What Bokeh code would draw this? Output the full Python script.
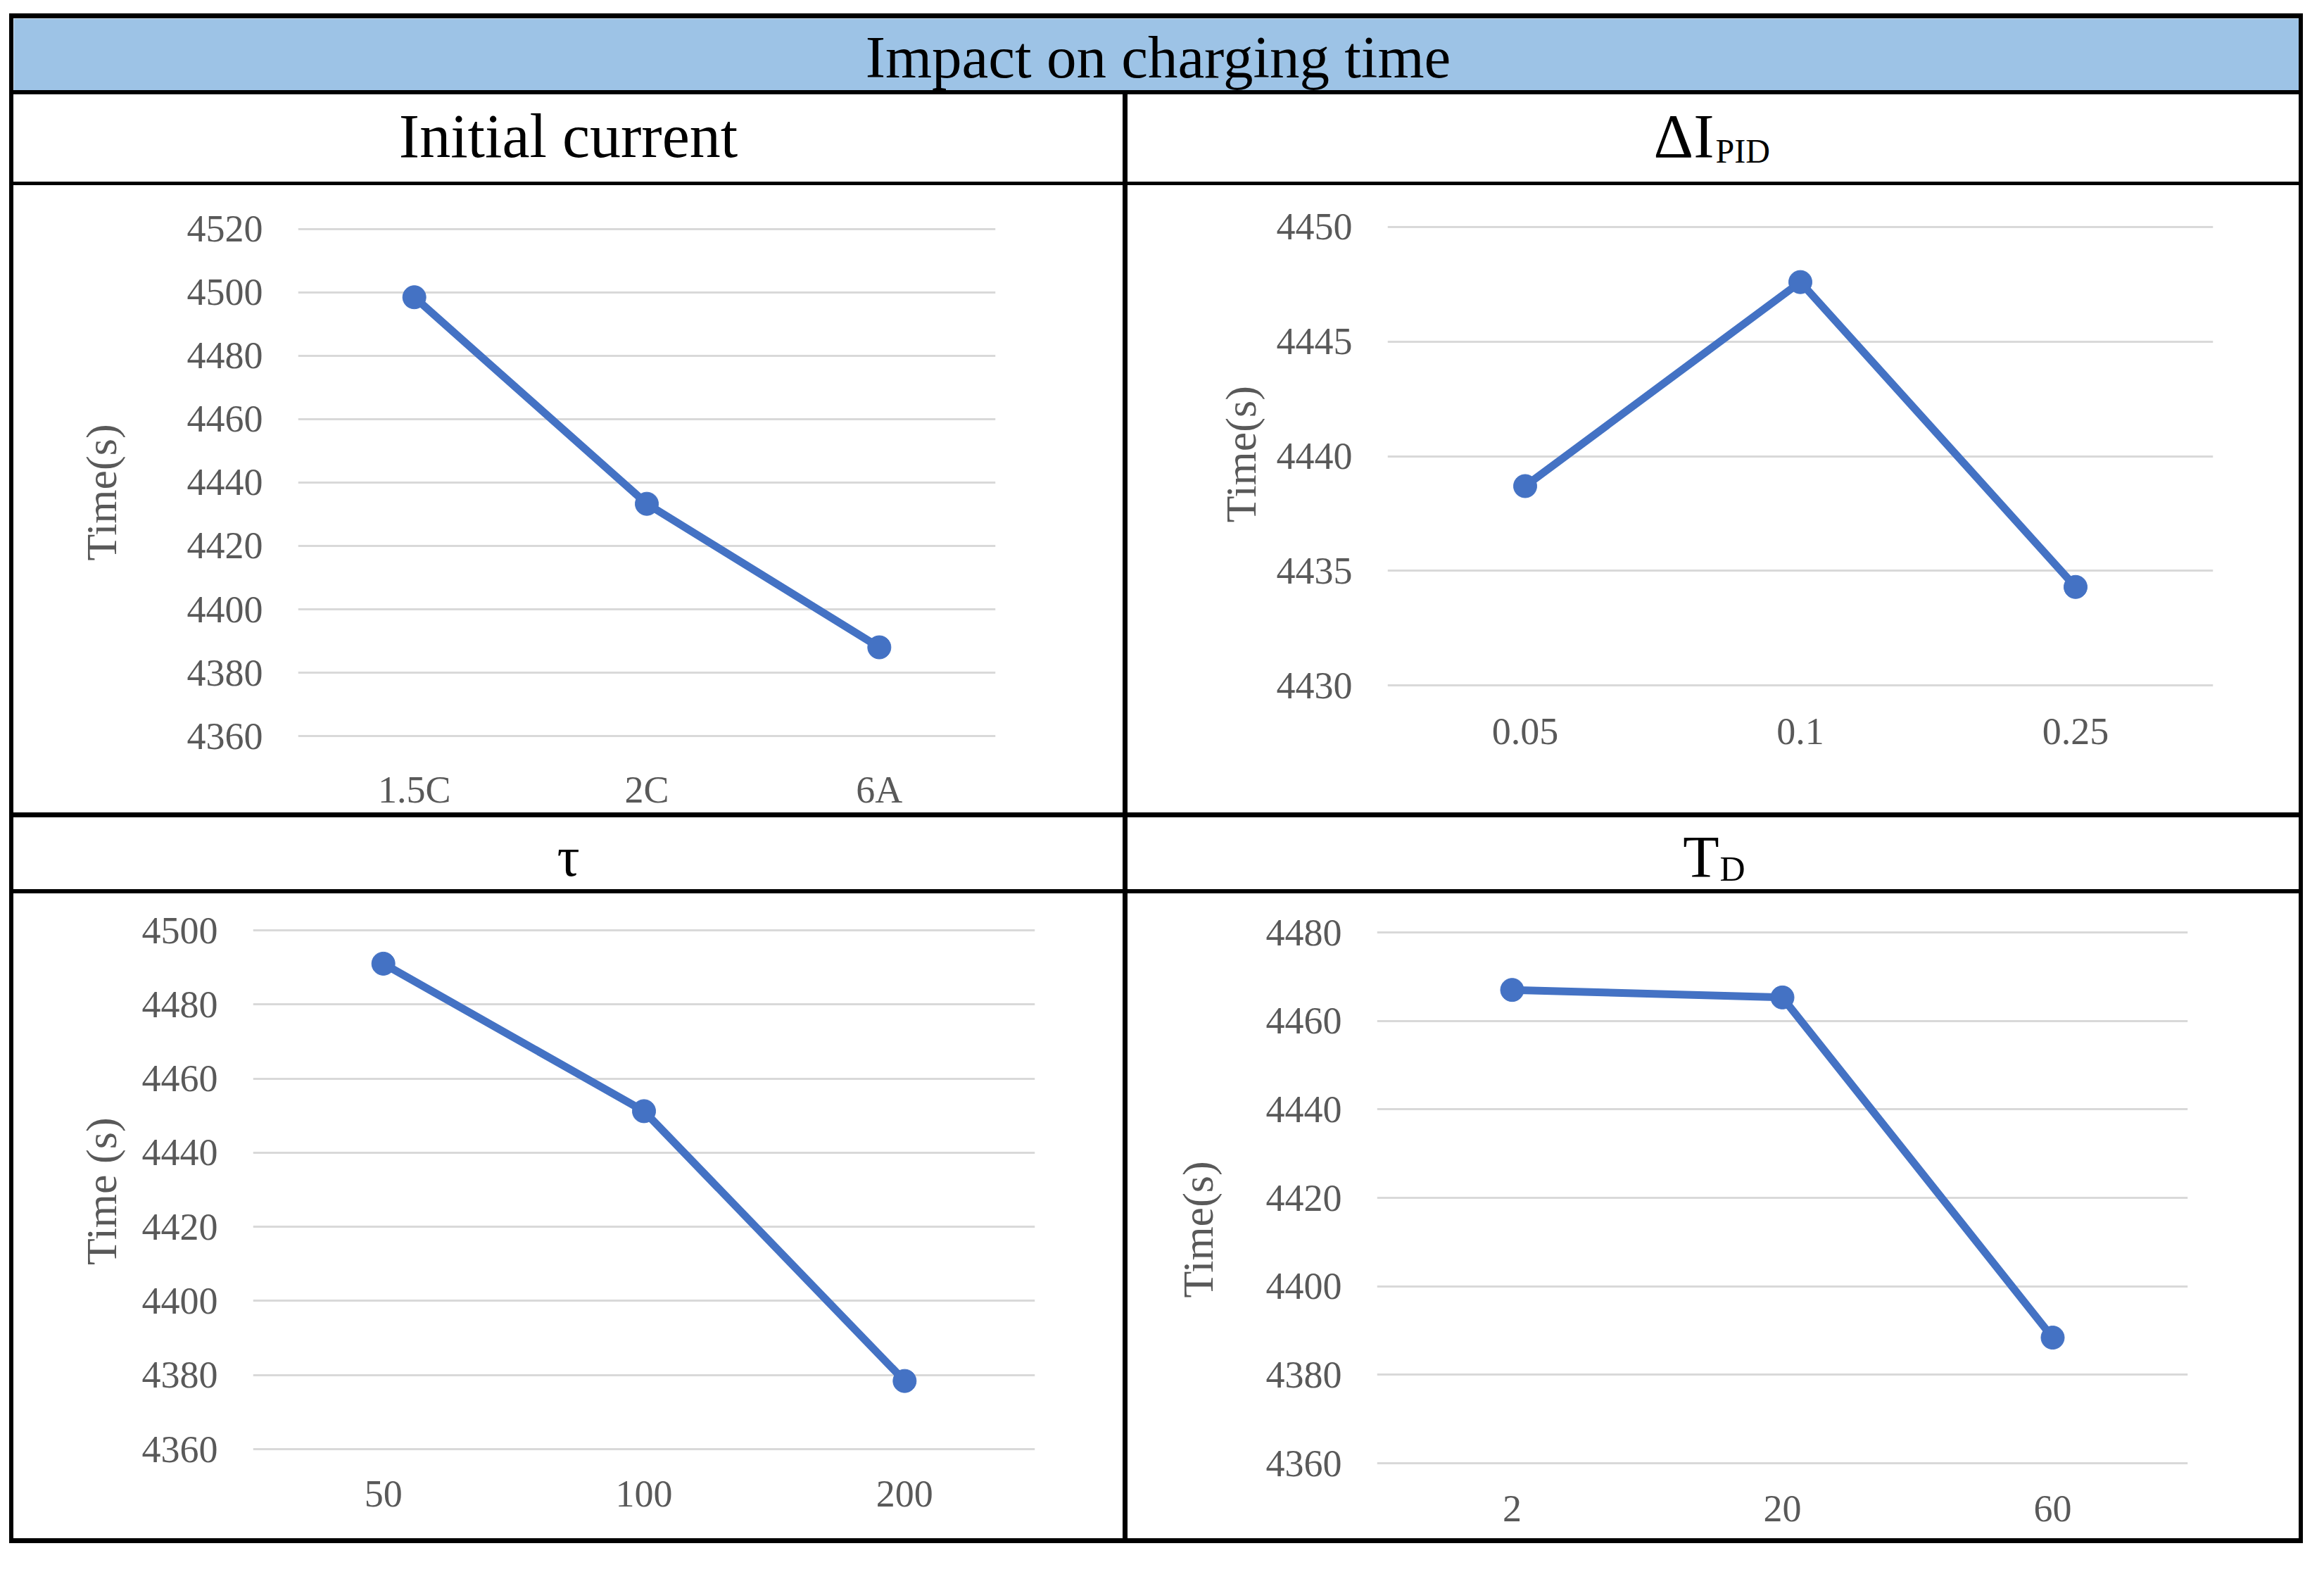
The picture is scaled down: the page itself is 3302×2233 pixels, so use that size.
from bokeh.plotting import figure
from bokeh.models import Range1d, FactorRange, Spacer, FixedTicker, ColumnDataSource
from bokeh.layouts import row, column
from bokeh.core.properties import value
from bokeh.embed import file_html
from bokeh.resources import INLINE

# ---------------- data ----------------
title_text = "Impact on charging time"

cats1 = ["1.5C", "2C", "6A"]
vals1 = [4498.5, 4433.3, 4388.0]
ticks1 = [4360, 4380, 4400, 4420, 4440, 4460, 4480, 4500, 4520]

cats2 = ["0.05", "0.1", "0.25"]
vals2 = [4438.7, 4447.6, 4434.3]
ticks2 = [4430, 4435, 4440, 4445, 4450]

cats3 = ["50", "100", "200"]
vals3 = [4491.0, 4451.2, 4378.4]
ticks3 = [4360, 4380, 4400, 4420, 4440, 4460, 4480, 4500]

cats4 = ["2", "20", "60"]
vals4 = [4467.0, 4465.3, 4388.4]
ticks4 = [4360, 4380, 4400, 4420, 4440, 4460, 4480]

ylab1 = "Time(s)"
ylab2 = "Time(s)"
ylab3 = "Time (s)"
ylab4 = "Time(s)"

# ---------------- styles ----------------
FONT = "Liberation Serif"
BLUE = "#4472C4"
GRAY = "#595959"
GRID = "#D9D9D9"
HEAD = "#9DC3E6"
NB = "\u00a0"

LW = 1576   # left cell width
RW = 1664   # right cell width
DV = 7      # divider width
IW = LW + DV + RW


def black(w, h):
    return Spacer(width=w, height=h, margin=0, styles={"background-color": "black"})


def blank_fig(w, h, bg="white"):
    p = figure(width=w, height=h, x_range=Range1d(0, w), y_range=Range1d(0, h),
               output_backend="svg", toolbar_location=None, title=None,
               min_border=0, min_border_left=0, min_border_right=0,
               min_border_top=0, min_border_bottom=0)
    p.axis.visible = False
    p.grid.visible = False
    p.outline_line_color = None
    p.background_fill_color = bg
    p.border_fill_color = bg
    return p


def add_text(p, x, y, t, size, align="center"):
    p.text(x=[x], y=[y], text=[t], text_font=value(FONT), text_font_size=f"{size}px",
           text_align=align, text_baseline="alphabetic", text_color="black")


def chart(w, h, fl, fr, ft, fb, grid_top, grid_bot, cats, vals, ticks,
          ylabel, lab_standoff, x_standoff):
    # frame spans [ft, h - fb] in cell pixels; ticks[-1] sits at grid_top, ticks[0] at grid_bot
    ppu = (grid_bot - grid_top) / (ticks[-1] - ticks[0])
    y0 = ticks[0] - ((h - fb) - grid_bot) / ppu
    y1 = ticks[-1] + (grid_top - ft) / ppu
    p = figure(width=w, height=h, x_range=FactorRange(*cats),
               y_range=Range1d(y0, y1), title=None,
               output_backend="svg", toolbar_location=None,
               min_border_left=fl, min_border_right=fr,
               min_border_top=ft, min_border_bottom=fb)
    p.outline_line_color = None
    p.background_fill_color = "white"
    p.border_fill_color = "white"
    p.xgrid.visible = False
    p.ygrid.grid_line_color = GRID
    p.ygrid.grid_line_width = 3
    p.yaxis.ticker = FixedTicker(ticks=ticks)
    for ax in (p.xaxis[0], p.yaxis[0]):
        ax.axis_line_color = None
        ax.major_tick_line_color = None
        ax.minor_tick_line_color = None
        ax.major_tick_out = 0
        ax.major_tick_in = 0
        ax.major_label_text_font = FONT
        ax.major_label_text_font_size = "54px"
        ax.major_label_text_color = GRAY
    p.yaxis.major_label_standoff = 50
    p.xaxis.major_label_standoff = x_standoff
    p.yaxis.axis_label = ylabel
    p.yaxis.axis_label_text_font = FONT
    p.yaxis.axis_label_text_font_size = "62px"
    p.yaxis.axis_label_text_font_style = "normal"
    p.yaxis.axis_label_text_color = GRAY
    p.yaxis.axis_label_standoff = lab_standoff
    src = ColumnDataSource(dict(c=cats, v=vals))
    p.line(x="c", y="v", source=src, line_width=11, line_color=BLUE, line_join="round")
    p.scatter(x="c", y="v", source=src, size=33, fill_color=BLUE, line_color=BLUE)
    return p


# ---------------- header rows ----------------
title_fig = blank_fig(IW, 102, bg=HEAD)
add_text(title_fig, 1626, 48, title_text, 85)

sub1 = blank_fig(LW, 124)
add_text(sub1, 788, 65, "Initial current", 88)

sub2 = blank_fig(RW, 124)
add_text(sub2, 833, 65, "ΔI", 88, align="right")
add_text(sub2, 835, 44, "PID", 48, align="left")

sub3 = blank_fig(LW, 102)
add_text(sub3, 788, 47, "τ", 80)

sub4 = blank_fig(RW, 102)
add_text(sub4, 840, 46, "T", 84, align="right")
add_text(sub4, 841, 30, "D", 50, align="left")

# ---------------- charts ----------------
# row 1 cells: 891 high; shared frame top 57, bottom border 104
c1 = chart(LW, 891, 404, 181, 57, 104, 62, 785, cats1, vals1, ticks1,
           ylab1 + NB * 2, 85, 44)
c2 = chart(RW, 891, 369, 122, 57, 104, 59, 713, cats2, vals2, ticks2,
           NB * 5 + ylab2, 14, -27)
# row 2 cells: 916 high; shared frame top 50, bottom border 105
c3 = chart(LW, 916, 340, 125, 50, 105, 52, 789, cats3, vals3, ticks3,
           NB + ylab3, 21, 23)
c4 = chart(RW, 916, 354, 158, 50, 105, 55, 809, cats4, vals4, ticks4,
           ylab4 + NB * 6, 60, 44)

inner = column(
    title_fig,
    black(IW, 6),
    row(sub1, black(DV, 124), sub2),
    black(IW, 5),
    row(c1, black(DV, 891), c2),
    black(IW, 7),
    row(sub3, black(DV, 102), sub4),
    black(IW, 6),
    row(c3, black(DV, 916), c4),
)
IH = 102 + 6 + 124 + 5 + 891 + 7 + 102 + 6 + 916

table = column(
    black(IW + 12, 7),
    row(black(6, IH), inner, black(6, IH)),
    black(IW + 12, 7),
)

layout = column(Spacer(height=19, width=10), row(Spacer(width=13, height=10), table))

open("out.html", "w").write(file_html(layout, INLINE))
